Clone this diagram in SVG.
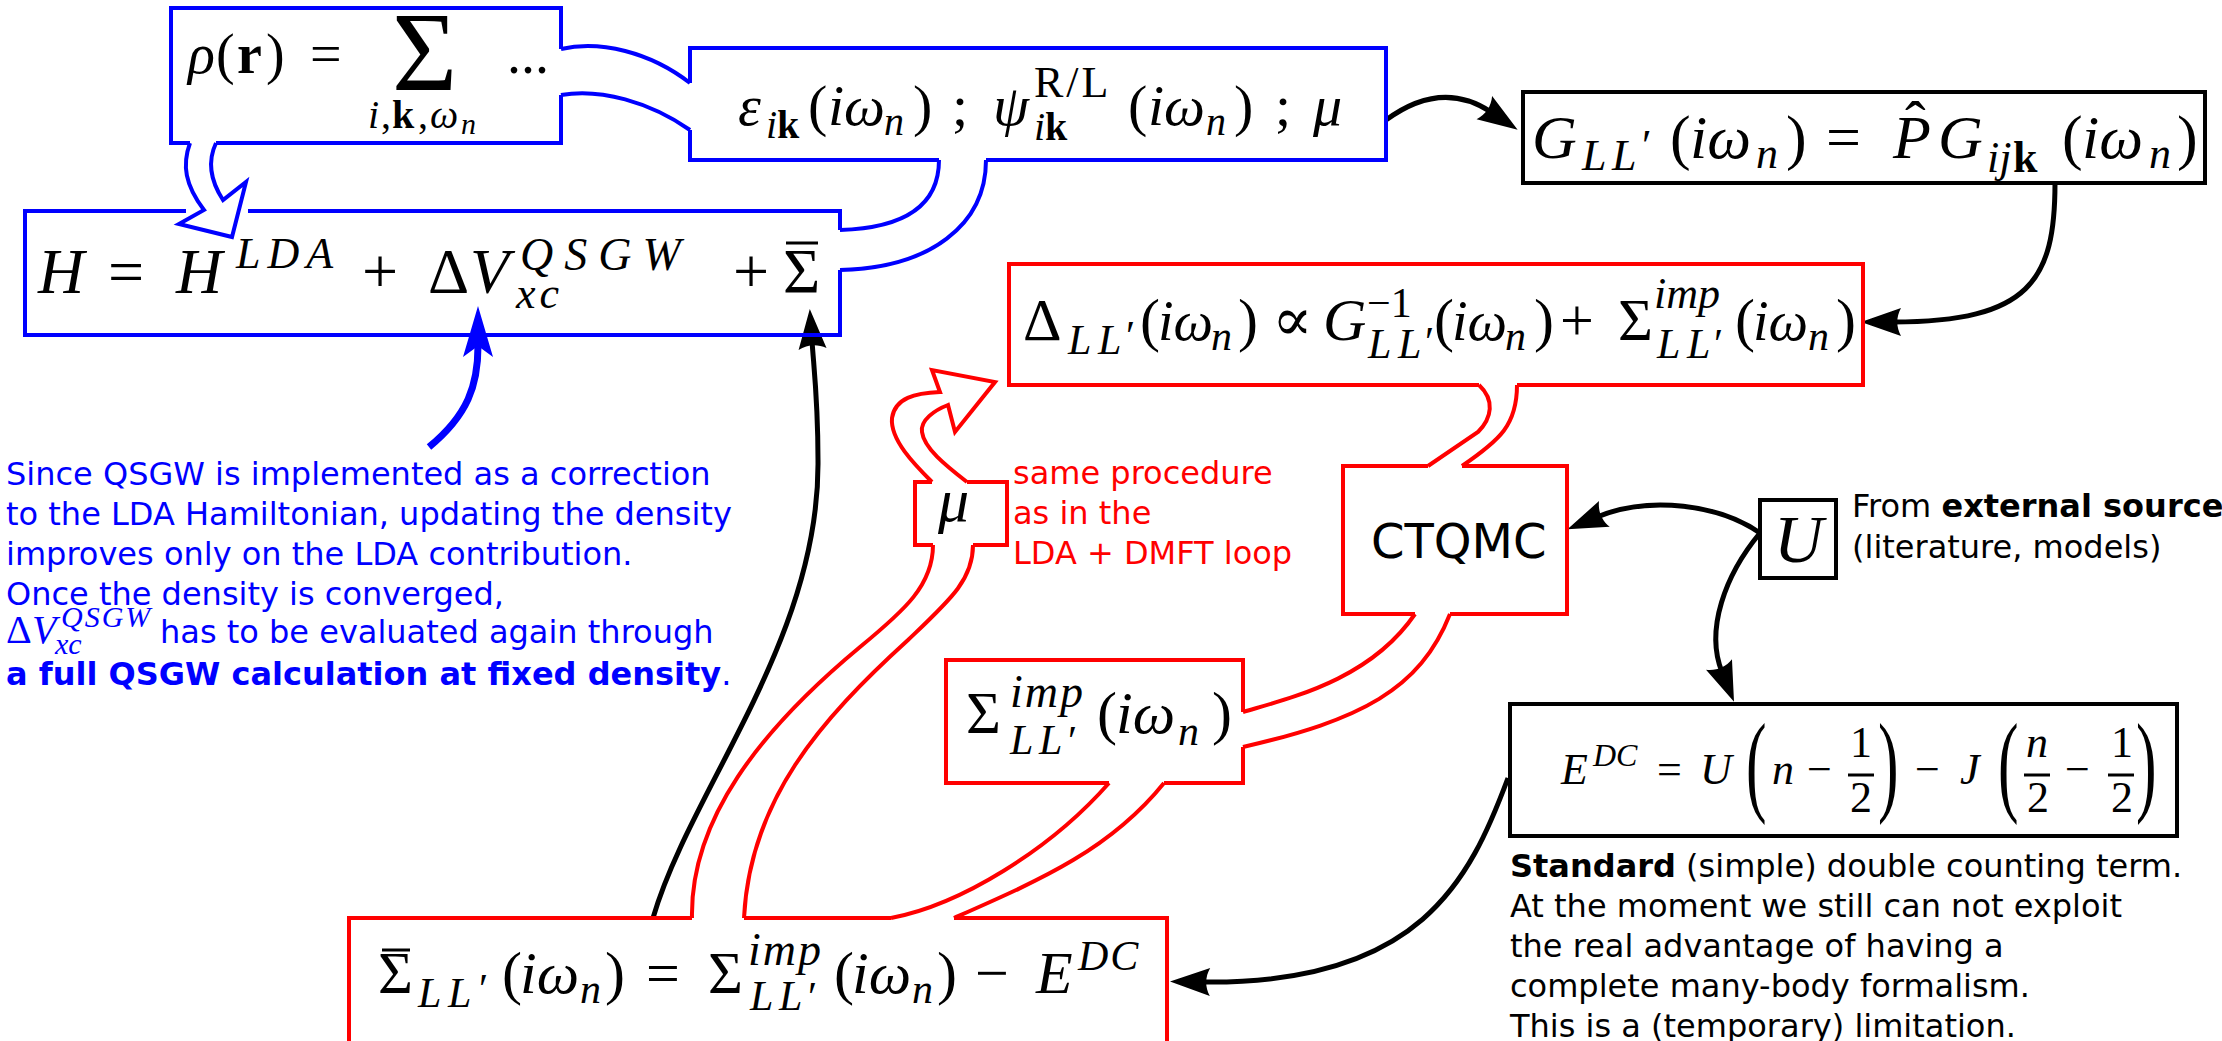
<svg xmlns="http://www.w3.org/2000/svg" width="2222" height="1041" viewBox="0 0 2222 1041">
<defs>
<style>
.bl{fill:none;stroke:#0000ff;stroke-width:4}
.rd{fill:none;stroke:#ff0000;stroke-width:4}
.bk{fill:none;stroke:#000;stroke-width:4}
.cn{fill:none;stroke:#000;stroke-width:5}
.mi{font-family:"Liberation Serif","DejaVu Serif",serif;font-style:italic}
.mr{font-family:"Liberation Serif","DejaVu Serif",serif}
.mb{font-family:"Liberation Serif","DejaVu Serif",serif;font-weight:bold;font-style:normal}
.tx{font-family:"DejaVu Sans",sans-serif;font-size:32px}
.bar{stroke:#000;stroke-width:3}
</style>
<marker id="ah" markerUnits="userSpaceOnUse" markerWidth="50" markerHeight="40" viewBox="-10 -20 50 40" refX="0" refY="0" orient="auto" overflow="visible">
<path d="M-8,-14 L32,0 L-8,14 C-3,5 -3,-5 -8,-14 Z" fill="#000"/>
</marker>
<marker id="ahb" markerUnits="userSpaceOnUse" markerWidth="60" markerHeight="40" viewBox="-12 -20 60 40" refX="0" refY="0" orient="auto" overflow="visible">
<path d="M-11,-15 L40,0 L-11,15 L0,0 Z" fill="#0000ff"/>
</marker>
</defs>
<rect width="2222" height="1041" fill="#fff"/>

<g id="connectors">
<path class="bl" d="M561,49 C600,40 650,52 690,83 M561,95 C600,88 650,102 690,130"/>
<path class="bl" d="M939,160 C939,205 905,228 840,230 M986,160 C986,225 930,268 840,270"/>
<path class="bl" d="M190,143 C182,165 185,185 204,210 L179,224 L232,237 L246,182 L223,200 C210,180 208,160 216,143"/>
<path class="rd" d="M1479,385 C1495,400 1492,418 1478,432 L1428,466 M1517,385 C1517,425 1500,440 1462,466"/>
<path class="rd" d="M1415,614 C1370,680 1290,698 1243,712 M1450,614 C1420,690 1360,720 1243,747"/>
<path class="rd" d="M1109,783 C1050,850 960,905 891,918 M1164,783 C1110,850 1040,880 954,918"/>
<path class="rd" d="M692,918 C690,820 760,730 860,647 C905,610 933,585 933,545 M744,918 C750,800 820,720 908,640 C950,600 973,580 973,545"/>
<path class="rd" d="M932,482 C915,465 890,440 892,418 C895,398 915,393 940,392 L932,370 L995,382 L955,432 L948,405 C935,410 920,420 922,432 C924,448 945,465 967,482"/>
<path class="cn" d="M1386,120 C1420,95 1455,88 1491,112" marker-end="url(#ah)"/>
<path class="cn" d="M2055,183 C2055,280 2030,322 1893,322" marker-end="url(#ah)"/>
<path class="cn" d="M1760,533 C1720,505 1650,495 1597,517" marker-end="url(#ah)"/>
<path class="cn" d="M1760,533 C1725,575 1705,630 1722,672" marker-end="url(#ah)"/>
<path class="cn" d="M1508,778 C1470,880 1420,985 1202,982" marker-end="url(#ah)"/>
<path class="cn" d="M653,918 C690,790 820,640 818,460 C818,400 814,370 812,341" marker-end="url(#ah)"/>
<path d="M429,447 C468,415 478,385 478,346" fill="none" stroke="#0000ff" stroke-width="7" marker-end="url(#ahb)"/>
</g>

<g id="node-rho">
<path class="bl" d="M561,49 L561,8 L171,8 L171,143 L190,143 M216,143 L561,143 L561,95"/>
<text class="mr" font-size="56" y="73"><tspan class="mi" x="188">ρ</tspan><tspan x="216">(</tspan><tspan class="mb" x="237">r</tspan><tspan x="266">)</tspan><tspan x="310">=</tspan><tspan font-size="112" x="392" y="90">Σ</tspan><tspan x="507" y="73">...</tspan><tspan class="mi" font-size="40" x="368" y="128">i</tspan><tspan font-size="40" x="381">,</tspan><tspan class="mb" font-size="40" x="392">k</tspan><tspan font-size="40" x="418">,</tspan><tspan class="mi" font-size="40" x="430">ω</tspan><tspan class="mi" x="461" y="134" font-size="30">n</tspan></text>
</g>

<g id="node-eps">
<path class="bl" d="M690,83 L690,48 L1386,48 L1386,160 L986,160 M939,160 L690,160 L690,130"/>
<text class="mr" font-size="58" y="125"><tspan class="mi" x="738">ε</tspan><tspan class="mi" font-size="40" x="766" y="138">i</tspan><tspan class="mb" font-size="40" x="777" y="138">k</tspan><tspan x="808" y="125">(</tspan><tspan class="mi" x="828">iω</tspan><tspan class="mi" font-size="40" x="884" y="135">n</tspan><tspan x="913" y="125">)</tspan><tspan x="952">;</tspan><tspan class="mi" x="993">ψ</tspan><tspan font-size="44" letter-spacing="3" x="1034" y="97">R/L</tspan><tspan class="mi" font-size="40" x="1034" y="140">i</tspan><tspan class="mb" font-size="40" x="1045" y="140">k</tspan><tspan x="1128" y="125">(</tspan><tspan class="mi" x="1148">iω</tspan><tspan class="mi" font-size="40" x="1206" y="135">n</tspan><tspan x="1234" y="125">)</tspan><tspan x="1275">;</tspan><tspan class="mi" x="1313">μ</tspan></text>
</g>

<g id="node-G">
<rect class="bk" x="1523" y="92" width="682" height="91"/>
<text class="mr" font-size="62" y="158"><tspan class="mi" x="1532">G</tspan><tspan class="mi" font-size="44" x="1582" y="170">L</tspan><tspan class="mi" font-size="44" x="1612" y="170">L</tspan><tspan font-size="44" x="1642" y="160">′</tspan><tspan x="1670" y="158">(</tspan><tspan class="mi" x="1690">iω</tspan><tspan class="mi" font-size="44" x="1756" y="168">n</tspan><tspan x="1786" y="158">)</tspan><tspan x="1826">=</tspan><tspan class="mi" x="1893">P</tspan><tspan x="1905" y="144">ˆ</tspan><tspan class="mi" x="1938" y="158">G</tspan><tspan class="mi" font-size="44" x="1987" y="172">ij</tspan><tspan class="mb" font-size="44" x="2013" y="172">k</tspan><tspan x="2062" y="158">(</tspan><tspan class="mi" x="2082">iω</tspan><tspan class="mi" font-size="44" x="2149" y="168">n</tspan><tspan x="2177" y="158">)</tspan></text>
</g>

<g id="node-H">
<path class="bl" d="M186,211 L25,211 L25,335 L840,335 L840,270 M248,211 L840,211 L840,230"/>
<text class="mr" font-size="64" y="293"><tspan class="mi" x="38">H</tspan><tspan x="108">=</tspan><tspan class="mi" x="176">H</tspan><tspan class="mi" font-size="44" letter-spacing="7" x="236" y="268">LDA</tspan><tspan x="362" y="293">+</tspan><tspan x="428">Δ</tspan><tspan class="mi" x="470">V</tspan><tspan class="mi" font-size="46" letter-spacing="11" x="520" y="270">QSGW</tspan><tspan class="mi" font-size="44" letter-spacing="4" x="516" y="308">xc</tspan><tspan x="733" y="293">+</tspan><tspan x="783">Σ</tspan></text>
<line class="bar" x1="786" y1="243" x2="818" y2="243"/>
</g>

<g id="node-Delta">
<path class="rd" d="M1479,385 L1009,385 L1009,264 L1863,264 L1863,385 L1517,385"/>
<text class="mr" font-size="60" y="340"><tspan x="1023">Δ</tspan><tspan class="mi" font-size="42" x="1068" y="354">L</tspan><tspan class="mi" font-size="42" x="1098" y="354">L</tspan><tspan font-size="42" x="1126" y="350">′</tspan><tspan x="1140" y="340">(</tspan><tspan class="mi" font-size="56" x="1158">iω</tspan><tspan class="mi" font-size="42" x="1211" y="350">n</tspan><tspan x="1238" y="340">)</tspan><tspan x="1272">∝</tspan><tspan class="mi" x="1323">G</tspan><tspan font-size="42" x="1367" y="317">−1</tspan><tspan class="mi" font-size="42" x="1368" y="358">L</tspan><tspan class="mi" font-size="42" x="1398" y="358">L</tspan><tspan font-size="42" x="1425" y="356">′</tspan><tspan x="1434" y="340">(</tspan><tspan class="mi" font-size="56" x="1452">iω</tspan><tspan class="mi" font-size="42" x="1505" y="350">n</tspan><tspan x="1534" y="340">)</tspan><tspan x="1560">+</tspan><tspan x="1618">Σ</tspan><tspan class="mi" font-size="44" x="1654" y="308">imp</tspan><tspan class="mi" font-size="42" x="1657" y="358">L</tspan><tspan class="mi" font-size="42" x="1687" y="358">L</tspan><tspan font-size="42" x="1714" y="358">′</tspan><tspan x="1735" y="340">(</tspan><tspan class="mi" font-size="56" x="1753">iω</tspan><tspan class="mi" font-size="42" x="1808" y="350">n</tspan><tspan x="1836" y="340">)</tspan></text>
</g>

<g id="node-mu">
<path class="rd" d="M933,545 L915,545 L915,482 L932,482 M967,482 L1007,482 L1007,545 L973,545"/>
<text class="mi" x="938" y="521" font-size="62">μ</text>
</g>

<g id="node-CTQMC">
<path class="rd" d="M1428,466 L1343,466 L1343,614 L1415,614 M1450,614 L1567,614 L1567,466 L1462,466"/>
<text class="tx" x="1371" y="558" style="font-size:48px">CTQMC</text>
</g>

<g id="node-U">
<rect class="bk" x="1760" y="500" width="76" height="78"/>
<text class="mi" x="1774" y="562" font-size="68">U</text>
</g>

<g id="node-Sigmaimp">
<path class="rd" d="M1243,712 L1243,660 L946,660 L946,783 L1109,783 M1164,783 L1243,783 L1243,747"/>
<text class="mr" font-size="60" y="733"><tspan x="966">Σ</tspan><tspan class="mi" font-size="46" letter-spacing="2" x="1010" y="707">imp</tspan><tspan class="mi" font-size="42" x="1010" y="754">L</tspan><tspan class="mi" font-size="42" x="1039" y="754">L</tspan><tspan font-size="42" x="1068" y="755">′</tspan><tspan x="1097" y="733">(</tspan><tspan class="mi" x="1116">iω</tspan><tspan class="mi" font-size="42" x="1178" y="745">n</tspan><tspan x="1212" y="733">)</tspan></text>
</g>

<g id="node-EDC">
<rect class="bk" x="1510" y="704" width="667" height="132"/>
<text class="mr" font-size="44" y="784"><tspan class="mi" x="1561">E</tspan><tspan class="mi" font-size="32" x="1593" y="766">DC</tspan><tspan x="1657" y="784">=</tspan><tspan class="mi" x="1700">U</tspan><tspan class="mi" x="1772">n</tspan><tspan x="1807">−</tspan><tspan x="1850" y="757">1</tspan><tspan x="1850" y="812">2</tspan><tspan x="1915" y="784">−</tspan><tspan class="mi" x="1960">J</tspan><tspan class="mi" x="2026" y="757">n</tspan><tspan x="2027" y="812">2</tspan><tspan x="2065" y="784">−</tspan><tspan x="2111" y="757">1</tspan><tspan x="2111" y="812">2</tspan></text>
<line class="bar" x1="1848" y1="775" x2="1874" y2="775"/>
<line class="bar" x1="2024" y1="775" x2="2050" y2="775"/>
<line class="bar" x1="2108" y1="775" x2="2134" y2="775"/>
<text class="mr" font-size="112" transform="translate(1746,801) scale(0.55,1)">(</text>
<text class="mr" font-size="112" transform="translate(1878,801) scale(0.55,1)">)</text>
<text class="mr" font-size="112" transform="translate(1998,801) scale(0.55,1)">(</text>
<text class="mr" font-size="112" transform="translate(2136,801) scale(0.55,1)">)</text>
</g>

<g id="node-Sigmabar">
<path class="rd" d="M692,918 L349,918 L349,1045 M744,918 L891,918 M954,918 L1167,918 L1167,1045"/>
<text class="mr" font-size="60" y="993"><tspan x="378">Σ</tspan><tspan class="mi" font-size="42" x="418" y="1007">L</tspan><tspan class="mi" font-size="42" x="448" y="1007">L</tspan><tspan font-size="42" x="479" y="1003">′</tspan><tspan x="502" y="993">(</tspan><tspan class="mi" x="520">iω</tspan><tspan class="mi" font-size="42" x="580" y="1003">n</tspan><tspan x="605" y="993">)</tspan><tspan x="646">=</tspan><tspan x="708">Σ</tspan><tspan class="mi" font-size="46" letter-spacing="2" x="748" y="965">imp</tspan><tspan class="mi" font-size="42" x="750" y="1010">L</tspan><tspan class="mi" font-size="42" x="779" y="1010">L</tspan><tspan font-size="42" x="808" y="1011">′</tspan><tspan x="834" y="993">(</tspan><tspan class="mi" x="852">iω</tspan><tspan class="mi" font-size="42" x="912" y="1003">n</tspan><tspan x="937" y="993">)</tspan><tspan x="975">−</tspan><tspan class="mi" x="1036">E</tspan><tspan class="mi" font-size="42" letter-spacing="2" x="1078" y="970">DC</tspan></text>
<line class="bar" x1="382" y1="950" x2="410" y2="950"/>
</g>

<g id="note-qsgw" fill="#0000ff">
<text class="tx" x="6" y="485">Since QSGW is implemented as a correction</text>
<text class="tx" x="6" y="525">to the LDA Hamiltonian, updating the density</text>
<text class="tx" x="6" y="565">improves only on the LDA contribution.</text>
<text class="tx" x="6" y="605">Once the density is converged,</text>
<text class="mr" font-size="40" y="643"><tspan x="6">Δ</tspan><tspan class="mi" x="32">V</tspan><tspan class="mi" font-size="30" letter-spacing="2" x="61" y="627">QSGW</tspan><tspan class="mi" font-size="30" x="55" y="654">xc</tspan><tspan class="tx" x="160" y="643">has to be evaluated again through</tspan></text>
<text class="tx" x="6" y="685"><tspan font-weight="bold">a full QSGW calculation at fixed density</tspan>.</text>
</g>

<g id="note-dmft" fill="#ff0000">
<text class="tx" x="1013" y="484">same procedure</text>
<text class="tx" x="1013" y="524">as in the</text>
<text class="tx" x="1013" y="564">LDA + DMFT loop</text>
</g>

<g id="note-U" fill="#000">
<text class="tx" x="1852" y="517">From <tspan font-weight="bold">external source</tspan></text>
<text class="tx" x="1852" y="558">(literature, models)</text>
</g>

<g id="note-DC" fill="#000">
<text class="tx" x="1510" y="877"><tspan font-weight="bold">Standard</tspan> (simple) double counting term.</text>
<text class="tx" x="1510" y="917">At the moment we still can not exploit</text>
<text class="tx" x="1510" y="957">the real advantage of having a</text>
<text class="tx" x="1510" y="997">complete many-body formalism.</text>
<text class="tx" x="1510" y="1037">This is a (temporary) limitation.</text>
</g>
</svg>
